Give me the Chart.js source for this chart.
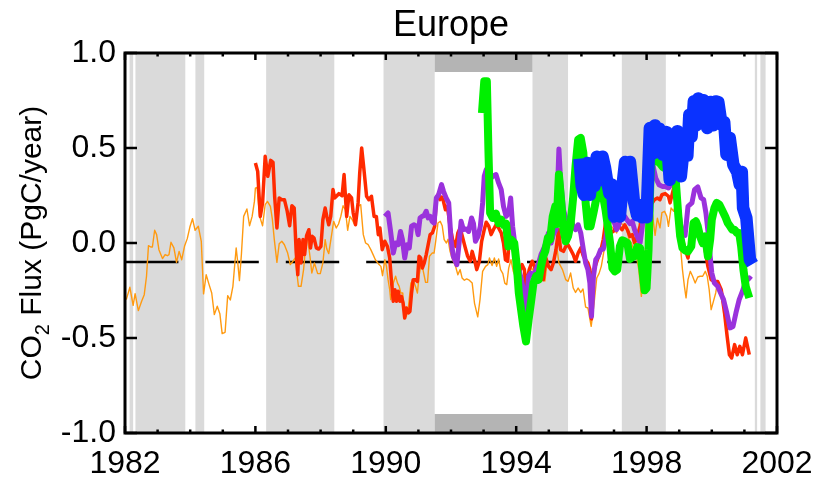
<!DOCTYPE html>
<html>
<head>
<meta charset="utf-8">
<script src="https://cdn.jsdelivr.net/npm/chart.js@4.4.1/dist/chart.umd.min.js"></script>
<style>
  html, body { margin: 0; padding: 0; background: #ffffff; }
  #wrap { width: 815px; height: 477px; }
</style>
</head>
<body>
<div id="wrap"><canvas id="c" width="815" height="477"></canvas></div>
<script>
// Europe CO2 flux estimates, PgC/year, as [decimal year, flux]

const orangeFlux = [
  [1982.04,-0.298],[1982.15,-0.233],[1982.25,-0.328],[1982.31,-0.267],[1982.41,-0.356],[1982.51,-0.307],
  [1982.59,-0.272],[1982.66,-0.175],[1982.72,-0.014],[1982.79,-0.021],[1982.84,-0.021],[1982.91,0.067],
  [1982.97,0.044],[1983.04,-0.035],[1983.15,-0.082],[1983.23,-0.061],[1983.30,-0.067],[1983.35,-0.061],
  [1983.41,0.004],[1983.50,-0.026],[1983.58,-0.102],[1983.66,-0.044],[1983.74,-0.088],[1983.83,-0.014],
  [1983.91,0.023],[1983.99,0.084],[1984.07,0.128],[1984.15,0.067],[1984.25,0.088],[1984.34,0.009],
  [1984.41,-0.268],[1984.49,-0.167],[1984.57,-0.214],[1984.66,-0.263],[1984.74,-0.377],[1984.83,-0.333],
  [1984.91,-0.372],[1984.98,-0.477],[1985.07,-0.470],[1985.15,-0.277],[1985.23,-0.300],[1985.31,-0.228],
  [1985.37,-0.105],[1985.41,-0.026],[1985.45,-0.088],[1985.51,-0.198],[1985.57,-0.061],[1985.64,0.140],
  [1985.74,0.179],[1985.82,0.091],[1985.90,0.140],[1985.97,0.219],[1986.00,0.289],[1986.05,0.293],
  [1986.13,0.140],[1986.22,0.091],[1986.30,0.202],[1986.37,0.219],[1986.46,0.193],[1986.52,0.126],
  [1986.58,0.018],[1986.66,-0.102],[1986.73,-0.004],[1986.81,0.009],[1986.89,-0.009],[1986.99,-0.053],
  [1987.07,-0.114],[1987.15,-0.096],[1987.22,-0.079],[1987.27,-0.154],[1987.32,-0.228],[1987.40,-0.228],
  [1987.48,-0.137],[1987.58,0.056],[1987.68,-0.079],[1987.73,-0.158],[1987.81,-0.105],[1987.91,-0.161],
  [1987.99,-0.161],[1988.07,-0.105],[1988.14,0.018],[1988.19,-0.032],[1988.25,-0.056],[1988.33,0.035],
  [1988.40,0.114],[1988.48,0.079],[1988.55,0.100],[1988.62,0.140],[1988.69,0.196],[1988.76,0.175],
  [1988.83,0.067],[1988.90,0.140],[1988.97,0.123],[1989.03,0.102],[1989.10,0.158],[1989.17,0.196],
  [1989.23,0.202],[1989.31,0.044],[1989.38,0.000],[1989.46,-0.009],[1989.54,-0.035],[1989.61,-0.061],
  [1989.68,-0.088],[1989.77,-0.109],[1989.85,-0.123],[1989.90,-0.172],[1989.97,-0.088],[1990.02,-0.123],
  [1990.07,-0.193],[1990.12,-0.246],[1990.15,-0.298],[1990.23,-0.211],[1990.30,-0.175],[1990.36,-0.211],
  [1990.41,-0.228],[1990.46,-0.263],[1990.52,-0.263],[1990.58,-0.395],[1990.63,-0.386],[1990.69,-0.342],
  [1990.77,-0.211],[1990.84,-0.193],[1990.91,-0.228],[1990.97,-0.263],[1991.02,-0.175],[1991.07,-0.123],
  [1991.14,-0.140],[1991.22,-0.207],[1991.28,-0.207],[1991.34,-0.070],[1991.42,-0.053],[1991.48,-0.053],
  [1991.53,0.009],[1991.60,0.105],[1991.67,0.114],[1991.73,0.091],[1991.79,0.018],[1991.86,0.000],
  [1991.91,0.020],[1991.97,-0.044],[1992.05,-0.088],[1992.14,-0.123],[1992.21,-0.167],[1992.28,-0.140],
  [1992.34,-0.184],[1992.41,-0.196],[1992.48,-0.189],[1992.56,-0.196],[1992.65,-0.211],[1992.72,-0.316],
  [1992.82,-0.389],[1992.89,-0.298],[1992.97,-0.149],[1993.06,-0.123],[1993.13,-0.114],[1993.18,-0.079],
  [1993.26,-0.119],[1993.33,-0.079],[1993.40,-0.123],[1993.46,-0.084],[1993.52,-0.140],[1993.59,-0.161],
  [1993.65,-0.211],[1993.71,-0.219],[1993.77,-0.132],[1993.84,-0.088],[1993.91,-0.149],[1993.99,-0.184],
  [1994.08,-0.140],[1994.17,-0.200],[1994.25,-0.170],[1994.31,-0.250],[1994.38,-0.190],[1994.46,-0.130],
  [1994.55,-0.150],[1994.63,-0.190],[1994.71,-0.160],[1994.80,-0.140],[1994.88,-0.200],[1994.95,-0.100],
  [1995.04,-0.130],[1995.12,-0.110],[1995.20,-0.060],[1995.26,-0.040],[1995.31,-0.105],[1995.42,-0.140],
  [1995.52,-0.193],[1995.59,-0.202],[1995.67,-0.158],[1995.75,-0.237],[1995.82,-0.260],[1995.90,-0.237],
  [1995.98,-0.260],[1996.05,-0.242],[1996.13,-0.337],[1996.20,-0.342],[1996.30,-0.439],[1996.39,-0.316],
  [1996.47,-0.184],[1996.54,-0.161],[1996.61,-0.123],[1996.69,-0.044],[1996.77,0.026],[1996.85,0.070],
  [1996.92,0.088],[1997.00,0.070],[1997.08,0.053],[1997.15,0.088],[1997.22,0.105],[1997.30,0.088],
  [1997.39,0.070],[1997.46,0.018],[1997.53,0.000],[1997.61,-0.035],[1997.69,-0.070],[1997.76,-0.140],
  [1997.84,-0.281],[1997.92,-0.105],[1998.00,0.018],[1998.07,0.100],[1998.12,0.190],[1998.18,0.150],
  [1998.26,0.040],[1998.33,0.130],[1998.41,0.080],[1998.47,0.160],[1998.55,0.167],[1998.62,0.140],
  [1998.67,0.088],[1998.75,0.184],[1998.83,0.167],[1998.88,0.193],[1998.96,0.105],[1999.03,0.000],
  [1999.10,-0.140],[1999.16,-0.228],[1999.21,-0.289],[1999.27,-0.193],[1999.34,-0.149],[1999.41,-0.175],
  [1999.49,-0.211],[1999.57,-0.179],[1999.64,-0.175],[1999.72,-0.175],[1999.80,-0.149],[1999.86,-0.175],
  [1999.92,-0.246],[1999.98,-0.351],[2000.05,-0.307],[2000.12,-0.263],[2000.18,-0.202],[2000.26,-0.246],
  [2000.33,-0.281],[2000.41,-0.421],[2000.48,-0.500],[2000.55,-0.575],[2000.62,-0.595],[2000.70,-0.530],
  [2000.78,-0.580],[2000.86,-0.540],[2000.94,-0.580],[2001.04,-0.495],[2001.15,-0.580]
];

const redFlux = [
  [1986.00,0.421],[1986.07,0.377],[1986.15,0.140],[1986.22,0.211],[1986.30,0.456],[1986.38,0.351],
  [1986.47,0.435],[1986.54,0.425],[1986.59,0.246],[1986.66,0.079],[1986.73,0.237],[1986.81,0.228],
  [1986.89,0.228],[1986.97,0.172],[1987.05,0.091],[1987.12,0.196],[1987.19,0.184],[1987.25,-0.044],
  [1987.30,-0.167],[1987.34,0.018],[1987.40,-0.105],[1987.46,0.018],[1987.51,-0.061],[1987.57,0.039],
  [1987.64,0.070],[1987.69,-0.026],[1987.74,0.035],[1987.80,0.026],[1987.87,-0.026],[1987.94,-0.032],
  [1988.01,-0.018],[1988.07,0.123],[1988.14,0.184],[1988.19,0.140],[1988.25,0.096],[1988.31,0.140],
  [1988.38,0.281],[1988.43,0.237],[1988.50,0.249],[1988.56,0.260],[1988.66,0.249],[1988.72,0.360],
  [1988.80,0.140],[1988.87,0.254],[1988.95,0.237],[1989.00,0.158],[1989.07,0.096],[1989.15,0.211],
  [1989.20,0.368],[1989.26,0.500],[1989.33,0.386],[1989.41,0.246],[1989.48,0.228],[1989.56,0.246],
  [1989.64,0.140],[1989.71,0.140],[1989.77,0.044],[1989.82,0.079],[1989.89,-0.035],[1989.97,0.009],
  [1990.05,-0.018],[1990.12,-0.079],[1990.17,-0.193],[1990.23,-0.307],[1990.28,-0.246],[1990.33,-0.307],
  [1990.38,-0.254],[1990.43,-0.307],[1990.48,-0.281],[1990.53,-0.316],[1990.58,-0.395],[1990.63,-0.342],
  [1990.69,-0.368],[1990.74,-0.360],[1990.79,-0.263],[1990.84,-0.193],[1990.91,-0.193],[1990.97,-0.202],
  [1991.02,-0.070],[1991.07,-0.079],[1991.12,-0.132],[1991.18,-0.105],[1991.24,-0.061],[1991.30,-0.009],
  [1991.36,0.044],[1991.43,0.053],[1991.50,0.088],[1991.55,0.232],[1991.60,0.254],[1991.66,0.228],
  [1991.71,0.242],[1991.76,0.225],[1991.83,0.175],[1991.89,0.193],[1991.97,0.088],[1992.05,0.018],
  [1992.14,-0.018],[1992.21,0.053],[1992.28,0.079],[1992.36,0.026],[1992.44,-0.026],[1992.51,-0.070],
  [1992.59,-0.096],[1992.65,-0.044],[1992.72,-0.088],[1992.79,-0.140],[1992.87,-0.096],[1992.94,0.009],
  [1993.02,0.070],[1993.08,0.109],[1993.16,0.088],[1993.23,0.044],[1993.30,0.070],[1993.38,0.096],
  [1993.46,0.079],[1993.54,0.053],[1993.61,0.000],[1993.67,-0.088],[1993.74,-0.096],[1993.81,0.088],
  [1993.87,0.035],[1993.94,-0.053],[1994.02,-0.123],[1994.10,-0.158],[1994.18,-0.114],[1994.25,-0.140],
  [1994.30,-0.228],[1994.35,-0.184],[1994.40,-0.140],[1994.49,-0.096],[1994.56,-0.123],[1994.63,-0.175],
  [1994.69,-0.158],[1994.76,-0.123],[1994.83,-0.193],[1994.91,-0.079],[1994.99,-0.123],[1995.07,-0.140],
  [1995.14,-0.105],[1995.22,-0.035],[1995.30,0.070],[1995.36,-0.035],[1995.45,-0.044],[1995.52,-0.018],
  [1995.59,-0.009],[1995.67,-0.035],[1995.75,-0.061],[1995.82,-0.096],[1995.90,-0.053],[1995.98,-0.026],
  [1996.06,-0.070],[1996.13,-0.088],[1996.20,-0.105],[1996.26,-0.140],[1996.31,-0.400],[1996.37,-0.150],
  [1996.44,-0.114],[1996.51,-0.079],[1996.59,-0.044],[1996.67,0.018],[1996.74,0.105],[1996.81,0.088],
  [1996.88,0.053],[1996.98,0.061],[1997.08,0.088],[1997.15,0.088],[1997.25,0.070],[1997.33,0.096],
  [1997.41,0.070],[1997.49,0.035],[1997.56,0.044],[1997.63,0.000],[1997.71,0.035],[1997.80,0.088],
  [1997.87,0.175],[1997.94,0.228],[1998.02,0.246],[1998.12,0.272],[1998.17,0.211],[1998.24,0.228],
  [1998.33,0.237],[1998.41,0.228],[1998.47,0.254],[1998.57,0.260],[1998.67,0.246],[1998.72,0.211],
  [1998.83,0.289],[1998.95,0.170],[1999.03,0.080],[1999.10,0.020],[1999.18,-0.035],[1999.27,-0.079],
  [1999.37,0.035],[1999.49,0.105],[1999.59,0.088],[1999.67,0.018],[1999.78,-0.018],[1999.88,-0.123],
  [1999.98,-0.193],[2000.08,-0.202],[2000.18,-0.202],[2000.29,-0.246],[2000.39,-0.368],[2000.47,-0.491],
  [2000.54,-0.588],[2000.61,-0.605],[2000.70,-0.535],[2000.78,-0.588],[2000.86,-0.544],[2000.94,-0.588],
  [2001.04,-0.500],[2001.15,-0.588]
];

const purpleFlux = [
  [1989.97,0.140],[1990.07,0.158],[1990.14,0.070],[1990.23,-0.053],[1990.30,0.000],[1990.38,-0.009],
  [1990.45,0.061],[1990.51,0.018],[1990.58,-0.079],[1990.65,-0.009],[1990.72,-0.026],[1990.79,0.088],
  [1990.87,0.096],[1990.94,0.088],[1990.99,0.044],[1991.05,0.132],[1991.11,0.140],[1991.17,0.144],
  [1991.24,0.167],[1991.30,0.132],[1991.36,0.140],[1991.42,0.114],[1991.48,0.105],[1991.55,0.237],
  [1991.62,0.254],[1991.71,0.307],[1991.77,0.272],[1991.85,0.237],[1991.93,0.211],[1992.00,0.018],
  [1992.07,-0.070],[1992.18,-0.114],[1992.26,0.018],[1992.31,0.114],[1992.38,0.070],[1992.46,0.074],
  [1992.54,0.061],[1992.63,0.132],[1992.69,0.102],[1992.75,0.009],[1992.83,0.035],[1992.90,0.088],
  [1992.97,0.211],[1993.02,0.351],[1993.08,0.386],[1993.16,0.377],[1993.23,0.342],[1993.30,0.354],
  [1993.38,0.360],[1993.46,0.316],[1993.54,0.281],[1993.61,0.193],[1993.69,0.140],[1993.77,0.158],
  [1993.83,0.237],[1993.89,0.088],[1993.94,0.018],[1993.99,-0.070],[1994.08,-0.140],[1994.15,-0.184],
  [1994.22,-0.246],[1994.28,-0.351],[1994.33,-0.281],[1994.38,-0.175],[1994.45,-0.158],[1994.53,-0.175],
  [1994.61,-0.140],[1994.69,-0.105],[1994.76,-0.061],[1994.83,-0.035],[1994.91,0.000],[1994.99,0.053],
  [1995.07,0.000],[1995.14,0.044],[1995.22,0.070],[1995.26,0.246],[1995.31,0.495],[1995.36,0.333],
  [1995.45,0.175],[1995.52,0.132],[1995.59,0.123],[1995.67,0.140],[1995.75,0.088],[1995.82,0.070],
  [1995.90,0.096],[1995.98,0.053],[1996.06,-0.035],[1996.13,-0.105],[1996.20,-0.140],[1996.26,-0.211],
  [1996.31,-0.386],[1996.37,-0.175],[1996.44,-0.088],[1996.51,-0.070],[1996.59,-0.035],[1996.67,-0.032],
  [1996.74,0.018],[1996.81,0.088],[1996.90,0.132],[1996.98,0.123],[1997.08,0.070],[1997.15,0.096],
  [1997.25,0.158],[1997.33,0.140],[1997.41,0.119],[1997.49,0.102],[1997.56,0.114],[1997.63,0.070],
  [1997.71,0.035],[1997.80,0.000],[1997.87,0.088],[1997.94,0.246],[1998.02,0.386],[1998.12,0.439],
  [1998.20,0.404],[1998.28,0.342],[1998.38,0.307],[1998.48,0.298],[1998.57,0.298],[1998.67,0.290],
  [1998.82,0.325],[1998.92,0.270],[1999.00,0.150],[1999.08,0.050],[1999.18,0.040],[1999.27,0.193],
  [1999.39,0.211],[1999.47,0.281],[1999.57,0.295],[1999.67,0.237],[1999.75,0.228],[1999.82,0.158],
  [1999.90,0.035],[1999.95,-0.070],[2000.00,-0.158],[2000.08,-0.211],[2000.18,-0.228],[2000.27,-0.263],
  [2000.36,-0.298],[2000.46,-0.368],[2000.56,-0.447],[2000.65,-0.439],[2000.74,-0.368],[2000.84,-0.298],
  [2000.94,-0.254],[2001.04,-0.202],[2001.15,-0.184],[2001.21,-0.193]
];

const greenFlux = [
  [1992.95,0.684],[1993.02,0.851],[1993.10,0.851],[1993.15,0.474],[1993.20,0.158],[1993.28,0.132],
  [1993.38,0.154],[1993.46,0.105],[1993.54,0.123],[1993.61,0.096],[1993.69,0.102],[1993.76,-0.018],
  [1993.84,0.018],[1993.94,0.000],[1994.02,-0.123],[1994.08,-0.263],[1994.15,-0.351],[1994.22,-0.439],
  [1994.30,-0.518],[1994.38,-0.404],[1994.45,-0.316],[1994.53,-0.211],[1994.61,-0.175],[1994.69,-0.193],
  [1994.76,-0.123],[1994.83,-0.070],[1994.89,-0.044],[1994.97,0.026],[1995.04,0.018],[1995.12,0.140],
  [1995.20,0.193],[1995.24,0.100],[1995.31,0.360],[1995.38,0.220],[1995.45,0.070],[1995.52,0.009],
  [1995.59,0.035],[1995.67,0.102],[1995.75,0.246],[1995.82,0.404],[1995.90,0.544],[1995.98,0.553],
  [1996.06,0.474],[1996.13,0.211],[1996.20,0.088],[1996.28,0.088],[1996.37,0.158],[1996.44,0.219],
  [1996.51,0.254],[1996.59,0.281],[1996.67,0.242],[1996.74,0.175],[1996.81,0.088],[1996.88,0.000],
  [1996.95,-0.132],[1997.02,-0.149],[1997.10,-0.140],[1997.18,-0.018],[1997.25,0.014],[1997.33,0.009],
  [1997.41,0.000],[1997.49,-0.084],[1997.56,-0.074],[1997.63,-0.070],[1997.71,-0.021],[1997.80,-0.026],
  [1997.87,-0.140],[1997.94,-0.249],[1998.00,-0.237],[1998.06,-0.035],[1998.12,0.351],[1998.18,0.491],
  [1998.25,0.474],[1998.33,0.430],[1998.41,0.420],[1998.50,0.400],[1998.60,0.390],[1998.70,0.380],
  [1998.80,0.400],[1998.90,0.316],[1998.97,0.150],[1999.03,0.035],[1999.10,-0.026],[1999.18,-0.039],
  [1999.27,-0.044],[1999.37,-0.018],[1999.44,0.105],[1999.51,0.114],[1999.57,0.088],[1999.64,0.035],
  [1999.72,0.000],[1999.80,0.035],[1999.88,-0.070],[1999.95,0.018],[2000.00,0.123],[2000.08,0.184],
  [2000.15,0.211],[2000.23,0.202],[2000.31,0.175],[2000.41,0.140],[2000.49,0.105],[2000.56,0.088],
  [2000.63,0.070],[2000.70,0.070],[2000.77,0.053],[2000.84,0.053],[2000.90,-0.018],[2000.97,-0.140],
  [2001.04,-0.228],[2001.15,-0.289]
];

const blueFlux = [
  [1995.94,0.444],[1996.01,0.300],[1996.08,0.254],[1996.18,0.421],[1996.26,0.254],[1996.32,0.349],
  [1996.40,0.300],[1996.47,0.454],[1996.56,0.330],[1996.65,0.454],[1996.72,0.400],[1996.79,0.325],
  [1996.86,0.260],[1996.93,0.307],[1997.00,0.140],[1997.09,0.200],[1997.18,0.140],[1997.26,0.300],
  [1997.34,0.426],[1997.41,0.320],[1997.49,0.426],[1997.61,0.219],[1997.71,0.146],[1997.79,0.200],
  [1997.86,0.135],[1997.93,0.190],[1998.00,0.135],[1998.10,0.605],[1998.18,0.470],[1998.26,0.619],
  [1998.33,0.480],[1998.39,0.602],[1998.49,0.465],[1998.61,0.584],[1998.71,0.333],[1998.82,0.570],
  [1998.88,0.420],[1998.94,0.588],[1999.05,0.351],[1999.18,0.570],[1999.25,0.460],[1999.31,0.675],
  [1999.38,0.560],[1999.45,0.746],[1999.52,0.620],[1999.58,0.760],[1999.66,0.630],[1999.74,0.751],
  [1999.86,0.605],[1999.96,0.742],[2000.04,0.620],[2000.12,0.745],[2000.20,0.742],[2000.30,0.623],
  [2000.38,0.637],[2000.45,0.465],[2000.55,0.553],[2000.66,0.412],[2000.78,0.374],[2000.86,0.307],
  [2000.92,0.374],[2000.96,0.184],[2001.06,0.132],[2001.17,-0.088],[2001.25,-0.111]
];

// reference level and its span
const refLevel = -0.1;
const refSpan = [1982.0, 2001.3];

// shaded periods (light) and the marked period drawn as top/bottom strips (dark)
const lightPeriods = [
  [1982.14,1982.25],[1982.32,1983.85],[1984.16,1984.43],[1986.33,1988.42],[1989.93,1991.50],
  [1994.50,1995.59],[1997.24,1998.59],[2001.32,2001.39],[2001.49,2001.65]
];
const darkPeriods = [[1991.50,1994.50]];

const xTickYears = [1982, 1986, 1990, 1994, 1998, 2002];
const yTickValues = [-1.0, -0.5, 0.0, 0.5, 1.0];

const FONT = "'Liberation Sans', Arial, Helvetica, sans-serif";

const toPts = arr => arr.map(p => ({ x: p[0], y: p[1] }));

// light/dark shaded periods behind the data
const shadePlugin = {
  id: 'shade',
  beforeDatasetsDraw(chart) {
    const { ctx, chartArea: a, scales: { x, y } } = chart;
    ctx.save();
    ctx.fillStyle = '#dadada';
    lightPeriods.forEach(([s, e]) => {
      const x0 = x.getPixelForValue(s), x1 = x.getPixelForValue(e);
      ctx.fillRect(x0, a.top, x1 - x0, a.bottom - a.top);
    });
    ctx.fillStyle = '#b4b4b4';
    darkPeriods.forEach(([s, e]) => {
      const x0 = x.getPixelForValue(s), x1 = x.getPixelForValue(e);
      const yTop = y.getPixelForValue(1.0), yTopIn = y.getPixelForValue(0.9);
      const yBot = y.getPixelForValue(-1.0), yBotIn = y.getPixelForValue(-0.9);
      ctx.fillRect(x0, yTop, x1 - x0, yTopIn - yTop);
      ctx.fillRect(x0, yBotIn, x1 - x0, yBot - yBotIn);
    });
    ctx.restore();
  }
};

// frame, inward tick marks, title and y-axis caption
const framePlugin = {
  id: 'frame',
  afterDraw(chart) {
    const { ctx, chartArea: a, scales: { x, y } } = chart;
    ctx.save();
    ctx.strokeStyle = '#000';
    ctx.lineWidth = 3;
    ctx.strokeRect(a.left, a.top, a.right - a.left, a.bottom - a.top);

    ctx.lineWidth = 2.5;
    ctx.beginPath();
    for (let yr = 1982; yr <= 2002; yr++) {
      const px = x.getPixelForValue(yr);
      const len = (yr - 1982) % 4 === 0 ? 7 : 3.5;
      ctx.moveTo(px, a.bottom); ctx.lineTo(px, a.bottom - len);
      ctx.moveTo(px, a.top); ctx.lineTo(px, a.top + len);
    }
    yTickValues.forEach(v => {
      const py = y.getPixelForValue(v);
      ctx.moveTo(a.left, py); ctx.lineTo(a.left + 12, py);
      ctx.moveTo(a.right, py); ctx.lineTo(a.right - 12, py);
    });
    ctx.stroke();

    // title
    ctx.fillStyle = '#000';
    ctx.font = `36px ${FONT}`;
    ctx.textAlign = 'center';
    ctx.textBaseline = 'alphabetic';
    ctx.fillText('Europe', (a.left + a.right) / 2, 36);

    // rotated y caption with subscript
    const big = `30px ${FONT}`, small = `20px ${FONT}`;
    const parts = [['CO', big, 0], ['2', small, 8], [' Flux (PgC/year)', big, 0]];
    let total = 0;
    parts.forEach(([t, f]) => { ctx.font = f; total += ctx.measureText(t).width; });
    ctx.translate(41, (a.top + a.bottom) / 2);
    ctx.rotate(-Math.PI / 2);
    ctx.textAlign = 'left';
    let cx = -total / 2;
    parts.forEach(([t, f, dy]) => {
      ctx.font = f;
      ctx.fillText(t, cx, dy);
      cx += ctx.measureText(t).width;
    });
    ctx.restore();
  }
};

const line = (data, color, width, extra) => Object.assign({
  data: toPts(data), borderColor: color, borderWidth: width, pointRadius: 0,
  tension: 0, fill: false, borderJoinStyle: 'round', borderCapStyle: 'butt'
}, extra || {});

new Chart(document.getElementById('c'), {
  type: 'line',
  data: {
    datasets: [
      line(blueFlux, '#0a32ff', 12.5, { order: 1 }),
      line(greenFlux, '#00f000', 8, { order: 2 }),
      line(purpleFlux, '#9a32dc', 5, { order: 3 }),
      line(redFlux, '#ff2a00', 3.5, { order: 4 }),
      line(orangeFlux, '#ff9a10', 1.4, { order: 5 }),
      line([[refSpan[0], refLevel], [refSpan[1], refLevel]], '#000000', 2.5,
           { order: 6, borderDash: [53.4, 27], borderJoinStyle: 'miter' })
    ]
  },
  options: {
    responsive: false,
    animation: false,
    devicePixelRatio: 1,
    layout: { padding: { left: 0, right: 38, top: 53, bottom: 0 } },
    plugins: { legend: { display: false }, title: { display: false }, tooltip: { enabled: false } },
    scales: {
      x: {
        type: 'linear', min: 1982, max: 2002,
        border: { display: false },
        grid: { display: false, drawTicks: false },
        afterBuildTicks: s => { s.ticks = xTickYears.map(v => ({ value: v })); },
        ticks: {
          color: '#000', padding: 12, maxRotation: 0, autoSkip: false,
          font: { family: FONT, size: 32 },
          callback: v => String(v)
        },
        afterFit: s => { s.height = 44; s.paddingLeft = 0; s.paddingRight = 0; }
      },
      y: {
        type: 'linear', min: -1, max: 1,
        border: { display: false },
        grid: { display: false, drawTicks: false },
        afterBuildTicks: s => { s.ticks = yTickValues.map(v => ({ value: v })); },
        ticks: {
          color: '#000', padding: 9,
          font: { family: FONT, size: 32 },
          callback: v => Number(v).toFixed(1)
        },
        afterFit: s => { s.width = 125; s.paddingTop = 0; s.paddingBottom = 0; }
      }
    }
  },
  plugins: [shadePlugin, framePlugin]
});
</script>
</body>
</html>
